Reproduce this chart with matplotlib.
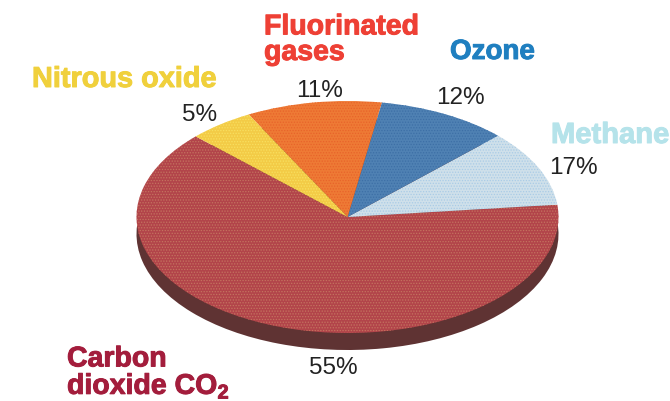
import matplotlib
matplotlib.use("Agg")
import matplotlib.pyplot as plt
import matplotlib.patheffects as pe

plt.rcParams['font.family'] = ['Liberation Sans', 'DejaVu Sans']
plt.rcParams['mathtext.fontset'] = 'custom'
plt.rcParams['mathtext.bf'] = 'Liberation Sans:bold'
plt.rcParams['mathtext.rm'] = 'Liberation Sans'
plt.rcParams['hatch.linewidth'] = 0.6

W, H = 670, 401

# labels say one thing, the slices as drawn are a bit different
categories = ["Carbon\ndioxide CO$_{\\mathbf{2}}$", "Methane", "Ozone", "Fluorinated\ngases", "Nitrous oxide"]
percent_labels = ["55%", "17%", "12%", "11%", "5%"]
drawn_shares = [63.6, 10.6, 10.0, 10.3, 5.0]
start_angle = 136

slice_colors = ["#b2444a", "#cfe0ea", "#4f81b3", "#ee7a35", "#f3cb46"]
dot_colors = ["#c4745f", "#a9cbe6", "#3d6fa6", "#e8632a", "#f8e060"]
name_colors = ["#a31d3c", "#b5e3ea", "#1f7fc0", "#ee4035", "#f0d03c"]

# pixel positions of the text, top left origin, baseline of the last line
name_xy = [(67, 394), (551, 143), (450, 59), (264, 60), (32, 87)]
name_sizes = [20.5, 21, 20, 20.5, 20.8]
percent_xy = [(333.5, 368), (573.5, 168), (460, 98), (319.5, 91), (200, 115)]

# ellipse of the pie top in pixels
cx, cy, rx, ry = 347.5, 217, 211, 116
depth = 17

fig = plt.figure(figsize=(W / 100, H / 100), dpi=100)
ax = fig.add_axes([0, 0, 1, 1])

# side wall first, same shape pushed down
ax.pie(drawn_shares, startangle=start_angle, radius=1,
       center=(0, -depth / ry), colors=["#5f3333"] * 5, wedgeprops={"linewidth": 0})

wedges, _ = ax.pie(drawn_shares, startangle=start_angle, radius=1,
                   center=(0, 0), colors=slice_colors, wedgeprops={"linewidth": 0})
for w, fc, dc in zip(wedges, slice_colors, dot_colors):
    w.set_facecolor(fc)
    w.set_edgecolor(dc)
    w.set_hatch("......")
    w.set_linewidth(0)

# squash the circle, 1 unit = rx px across and ry px down
ax.set_aspect("auto")
ax.set_xlim(-cx / rx, (W - cx) / rx)
ax.set_ylim((cy - H) / ry, cy / ry)
ax.axis("off")

# overlay axes in pixels for the text
tx = fig.add_axes([0, 0, 1, 1], facecolor="none")
tx.set_xlim(0, W)
tx.set_ylim(H, 0)
tx.axis("off")

for name, (x, y), size, col in zip(categories, name_xy, name_sizes, name_colors):
    t = tx.text(x, y, name, color=col, fontsize=size, fontweight="bold", ha="left", va="baseline",
                linespacing=0.98)
    t.set_path_effects([pe.withStroke(linewidth=0.7, foreground=col)])

for lab, (x, y) in zip(percent_labels, percent_xy):
    tx.text(x, y, lab, color="#222222", fontsize=17.5, ha="center", va="center")

fig.savefig("out.png", dpi=100)
